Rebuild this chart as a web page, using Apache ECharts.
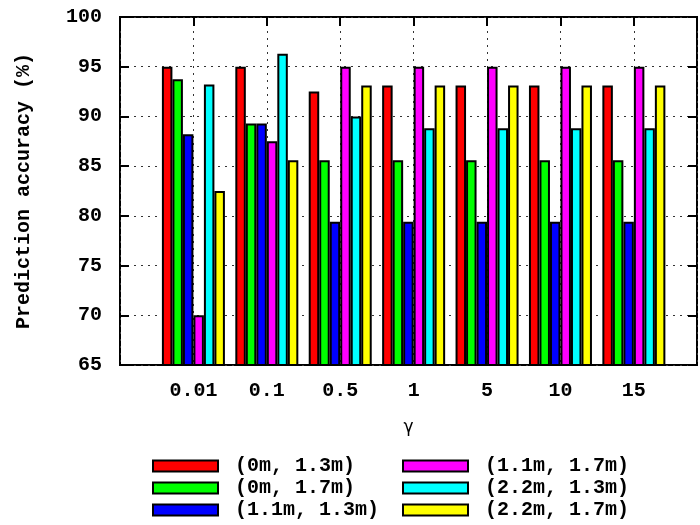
<!DOCTYPE html>
<html>
<head>
<meta charset="utf-8">
<script src="https://cdn.jsdelivr.net/npm/echarts@6/dist/echarts.min.js"></script>
<style>
  html, body { margin: 0; padding: 0; background: #fff; }
  #chart { width: 700px; height: 525px; }
</style>
</head>
<body>
<div id="chart"></div>
<script>
// gamma values on the x axis
const gammas = ["0.01", "0.1", "0.5", "1", "5", "10", "15"];

const seriesNames = [
  "(0m, 1.3m)", "(0m, 1.7m)", "(1.1m, 1.3m)",
  "(1.1m, 1.7m)", "(2.2m, 1.3m)", "(2.2m, 1.7m)"
];
const seriesColors = ["#ff0000", "#00ff00", "#0000ff", "#ff00ff", "#00ffff", "#ffff00"];

// prediction accuracy (%) per gamma
const acc0m13 = [95.0, 95.0, 92.5, 93.1, 93.1, 93.1, 93.1];
const acc0m17 = [93.75, 89.3, 85.6, 85.6, 85.6, 85.6, 85.6];
const acc11m13 = [88.2, 89.3, 79.4, 79.4, 79.4, 79.4, 79.4];
const acc11m17 = [70.0, 87.5, 95.0, 95.0, 95.0, 95.0, 95.0];
const acc22m13 = [93.2, 96.3, 90.0, 88.8, 88.8, 88.8, 88.8];
const acc22m17 = [82.5, 85.6, 93.1, 93.1, 93.1, 93.1, 93.1];

const seriesValues = [acc0m13, acc0m17, acc11m13, acc11m17, acc22m13, acc22m17];

const yTicks = { min: 65, max: 100, step: 5 };

const mono = "'Liberation Mono', 'DejaVu Sans Mono', monospace";
const dotted = { color: "#333", width: 1, type: [2, 5] };
const boldText = { fontFamily: mono, fontWeight: "bold", fontSize: 20, color: "#000" };
const innerTick = { show: true, inside: true, length: 9, lineStyle: { color: "#000", width: 2 } };

// legend: two columns of three, one legend per entry so the layout stays fixed
const legends = seriesNames.map((name, i) => ({
  data: [name],
  left: i < 3 ? 152 : 402,
  top: 456 + (i % 3) * 22,
  icon: "rect", itemWidth: 65, itemHeight: 11, padding: 0,
  textStyle: Object.assign({ padding: [0, 0, 0, 12] }, boldText)
}));

const chart = echarts.init(document.getElementById("chart"), null, { renderer: "canvas" });

chart.setOption({
  animation: false,
  backgroundColor: "#fff",
  grid: {
    left: 120, right: 3, top: 17, bottom: 160,
    show: true, borderColor: "#000", borderWidth: 2
  },
  legend: legends,
  xAxis: [
    {
      type: "value", min: -1, max: 6.86, interval: 1,
      name: "γ", nameLocation: "middle", nameGap: 54,
      nameTextStyle: { fontFamily: "'DejaVu Sans', sans-serif", fontSize: 17, color: "#000" },
      axisLine: { show: false, onZero: false },
      axisTick: { show: false },
      splitLine: { show: true, lineStyle: dotted },
      axisLabel: Object.assign({
        margin: 16, showMinLabel: false, showMaxLabel: false,
        formatter: (v) => (gammas[Math.round(v)] !== undefined ? gammas[Math.round(v)] : "")
      }, boldText)
    },
    {
      type: "value", position: "top", min: -1, max: 6.86, interval: 1,
      axisLine: { show: false, onZero: false },
      axisTick: innerTick,
      axisLabel: { show: false },
      splitLine: { show: false }
    }
  ],
  yAxis: [
    {
      type: "value", min: yTicks.min, max: yTicks.max, interval: yTicks.step,
      name: "Prediction accuracy (%)", nameLocation: "middle", nameGap: 86,
      nameTextStyle: boldText,
      axisLine: { show: false, onZero: false },
      axisTick: innerTick,
      splitLine: { show: true, lineStyle: dotted },
      axisLabel: Object.assign({ margin: 18 }, boldText)
    },
    {
      type: "value", position: "right", min: yTicks.min, max: yTicks.max, interval: yTicks.step,
      axisLine: { show: false, onZero: false },
      axisTick: innerTick,
      axisLabel: { show: false },
      splitLine: { show: false }
    }
  ],
  series: seriesNames.map((name, i) => ({
    name: name,
    type: "bar",
    xAxisIndex: 0,
    yAxisIndex: 0,
    barWidth: 10.5,
    barGap: "0%",
    itemStyle: { color: seriesColors[i], borderColor: "#000", borderWidth: 2 },
    data: seriesValues[i].map((v, k) => [k, v])
  }))
});
</script>
</body>
</html>
